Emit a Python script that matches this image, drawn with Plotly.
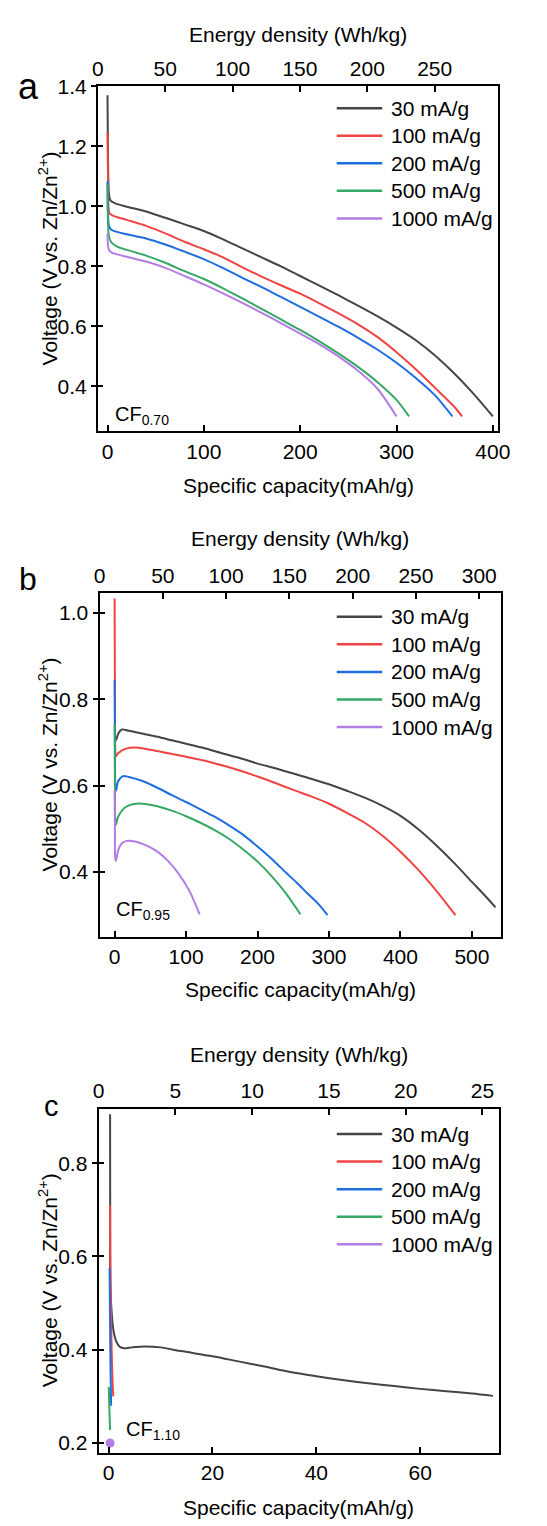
import plotly.graph_objects as go

W, H = 547, 1526
FONT = "Liberation Sans, Arial, sans-serif"
FS = 21

rate_labels = ["30 mA/g", "100 mA/g", "200 mA/g", "500 mA/g", "1000 mA/g"]
rate_colors = ["#454545", "#EF4444", "#1E6EE0", "#36A865", "#B27EE3"]

# ---- panel a : CF0.70 ----
a_cap_30 = [0, 0.3, 0.8, 1.5, 3, 8, 20, 40, 60, 80, 100, 120, 140, 160, 180, 200, 220, 240, 260, 280, 300, 320, 340, 360, 380, 400]
a_v_30 = [1.37, 1.25, 1.10, 1.04, 1.02, 1.01, 0.999, 0.983, 0.962, 0.94, 0.918, 0.89, 0.86, 0.83, 0.80, 0.768, 0.736, 0.703, 0.669, 0.634, 0.596, 0.554, 0.503, 0.443, 0.375, 0.30]
a_cap_100 = [0, 0.5, 1, 2, 5, 20, 40, 60, 80, 100, 120, 140, 160, 180, 200, 220, 240, 260, 280, 300, 320, 340, 360, 368]
a_v_100 = [1.245, 1.10, 1.00, 0.978, 0.97, 0.955, 0.935, 0.91, 0.882, 0.857, 0.83, 0.797, 0.766, 0.737, 0.709, 0.677, 0.643, 0.607, 0.565, 0.514, 0.457, 0.395, 0.332, 0.30]
a_cap_200 = [0, 0.5, 1.5, 4, 20, 40, 60, 80, 100, 120, 140, 160, 180, 200, 220, 240, 260, 280, 300, 320, 340, 358]
a_v_200 = [1.085, 0.98, 0.935, 0.922, 0.907, 0.893, 0.873, 0.849, 0.824, 0.794, 0.762, 0.731, 0.698, 0.665, 0.632, 0.598, 0.562, 0.523, 0.479, 0.428, 0.37, 0.30]
a_cap_500 = [0, 0.5, 1.5, 4, 10, 20, 40, 60, 80, 100, 120, 140, 160, 180, 200, 220, 240, 260, 280, 300, 313]
a_v_500 = [1.075, 0.95, 0.90, 0.88, 0.866, 0.855, 0.836, 0.812, 0.784, 0.758, 0.727, 0.693, 0.658, 0.623, 0.588, 0.55, 0.509, 0.465, 0.415, 0.355, 0.30]
a_cap_1000 = [0, 0.5, 1.5, 5, 10, 20, 40, 60, 80, 100, 120, 140, 160, 180, 200, 220, 240, 260, 280, 300]
a_v_1000 = [0.91, 0.87, 0.855, 0.845, 0.84, 0.832, 0.816, 0.795, 0.768, 0.74, 0.71, 0.678, 0.645, 0.611, 0.576, 0.54, 0.499, 0.452, 0.393, 0.30]

# ---- panel b : CF0.95 ----
b_cap_30 = [0, 2, 5, 10, 20, 40, 60, 80, 100, 125, 150, 175, 200, 225, 250, 275, 300, 325, 350, 375, 400, 425, 450, 475, 500, 520, 533]
b_v_30 = [0.712, 0.705, 0.72, 0.73, 0.727, 0.72, 0.713, 0.705, 0.697, 0.687, 0.675, 0.664, 0.651, 0.64, 0.628, 0.616, 0.603, 0.588, 0.572, 0.553, 0.53, 0.499, 0.462, 0.421, 0.377, 0.342, 0.318]
b_cap_100 = [0, 0.5, 1, 2, 5, 15, 30, 50, 75, 100, 125, 150, 175, 200, 225, 250, 275, 300, 325, 350, 375, 400, 425, 450, 477]
b_v_100 = [1.033, 0.80, 0.68, 0.668, 0.675, 0.685, 0.688, 0.683, 0.675, 0.667, 0.658, 0.647, 0.635, 0.621, 0.606, 0.59, 0.575, 0.558, 0.537, 0.514, 0.484, 0.447, 0.405, 0.357, 0.30]
b_cap_200 = [0, 0.5, 1, 2, 5, 12, 20, 40, 60, 80, 100, 120, 140, 160, 180, 200, 220, 240, 255, 270, 285, 298]
b_v_200 = [0.845, 0.70, 0.60, 0.588, 0.61, 0.622, 0.62, 0.61, 0.595, 0.578, 0.562, 0.545, 0.528, 0.508, 0.486, 0.459, 0.43, 0.398, 0.375, 0.35, 0.326, 0.30]
b_cap_500 = [0, 0.5, 1, 2, 5, 15, 30, 45, 60, 80, 100, 120, 140, 160, 180, 200, 220, 240, 260]
b_v_500 = [0.743, 0.60, 0.52, 0.51, 0.528, 0.55, 0.558, 0.557, 0.552, 0.542, 0.529, 0.514, 0.497, 0.477, 0.452, 0.424, 0.39, 0.35, 0.302]
b_cap_1000 = [0, 0.5, 1, 2, 5, 10, 17, 30, 45, 60, 75, 90, 105, 119]
b_v_1000 = [0.59, 0.50, 0.43, 0.426, 0.45, 0.466, 0.472, 0.47, 0.461, 0.447, 0.425, 0.395, 0.355, 0.302]

# ---- panel c : CF1.10 ----
c_cap_30 = [0.3, 0.32, 0.35, 0.6, 0.9, 1.2, 1.6, 2.2, 3, 4.5, 7, 10, 14, 20, 25, 30, 35, 40, 45, 50, 55, 60, 65, 70, 74]
c_v_30 = [0.905, 0.70, 0.54, 0.48, 0.445, 0.428, 0.415, 0.406, 0.403, 0.405, 0.407, 0.405, 0.397, 0.386, 0.375, 0.364, 0.352, 0.343, 0.335, 0.328, 0.322, 0.316, 0.311, 0.306, 0.301]
c_cap_100 = [0.3, 0.35, 0.45, 0.6, 0.75, 0.9]
c_v_100 = [0.71, 0.60, 0.50, 0.40, 0.34, 0.30]
c_cap_200 = [0.2, 0.3, 0.4, 0.5]
c_v_200 = [0.575, 0.45, 0.35, 0.28]
c_cap_500 = [0.05, 0.15, 0.3]
c_v_500 = [0.32, 0.28, 0.228]
c_cap_1000 = [0.3]
c_v_1000 = [0.2]

panels = [
    dict(letter="a", cf="0.70",
         caps=[a_cap_30, a_cap_100, a_cap_200, a_cap_500, a_cap_1000],
         volts=[a_v_30, a_v_100, a_v_200, a_v_500, a_v_1000],
         px=(95, 509), py=(75, 423), xr=[-10, 405.6], x2r=[0, 297.2], yr=[0.25, 1.4],
         dx=100, dx2=50, yt=[0.4, 0.6, 0.8, 1.0, 1.2, 1.4],
         top_title=23, bot_title=478, leg_y=97, letter_xy=(23, 75, 36), cf_xy=(111, 407)),
    dict(letter="b", cf="0.95",
         caps=[b_cap_30, b_cap_100, b_cap_200, b_cap_500, b_cap_1000],
         volts=[b_v_30, b_v_100, b_v_200, b_v_500, b_v_1000],
         px=(96.7, 511.7), py=(586, 932.7), xr=[-21.1, 540.5], x2r=[0, 317.1], yr=[0.25, 1.046],
         dx=100, dx2=50, yt=[0.4, 0.6, 0.8, 1.0],
         top_title=531, bot_title=986, leg_y=610, letter_xy=(23, 572, 32), cf_xy=(111.7, 906)),
    dict(letter="c", cf="1.10",
         caps=[c_cap_30, c_cap_100, c_cap_200, c_cap_500, c_cap_1000],
         volts=[c_v_30, c_v_100, c_v_200, c_v_500, c_v_1000],
         px=(95.7, 510), py=(1106, 1453.3), xr=[-1.92, 75.2], x2r=[0, 26.09], yr=[0.1787, 0.917],
         dx=20, dx2=5, yt=[0.2, 0.4, 0.6, 0.8],
         top_title=1051, bot_title=1508, leg_y=1131.7, letter_xy=(46.7, 1103, 29), cf_xy=(121.7, 1431)),
]


def fx(px):
    return px / W


def fy(py):
    return 1 - py / H


def text_note(text, x, y, size=FS, xanchor="center", **kw):
    return dict(text=text, xref="paper", yref="paper", x=fx(x), y=fy(y),
                xanchor=xanchor, yanchor="middle", showarrow=False,
                font=dict(family=FONT, size=size, color="black"), **kw)


fig = go.Figure()
layout = dict(width=W, height=H, margin=dict(l=0, r=0, t=0, b=0),
              paper_bgcolor="white", plot_bgcolor="white", showlegend=False,
              font=dict(family=FONT, size=FS, color="black"))
annotations = []
shapes = []

tickfont = dict(family=FONT, size=FS, color="black")
common = dict(showgrid=False, zeroline=False, tickcolor="black", tickwidth=2,
              linecolor="black", linewidth=2, tickfont=tickfont)

for i, p in enumerate(panels):
    n = 2 * i + 1
    xb, xt = f"x{n}" if n > 1 else "x", f"x{n + 1}"
    yl, yo = f"y{n}" if n > 1 else "y", f"y{n + 1}"
    xb_key = "xaxis" if n == 1 else f"xaxis{n}"
    yl_key = "yaxis" if n == 1 else f"yaxis{n}"
    xdom = [fx(p["px"][0]), fx(p["px"][1])]
    ydom = [fy(p["py"][1]), fy(p["py"][0])]

    layout[xb_key] = dict(domain=xdom, anchor=yl, range=p["xr"], tickmode="linear", tick0=0,
                          dtick=p["dx"], ticks="inside", ticklen=6, showline=True, mirror=True,
                          **common)
    layout[f"xaxis{n + 1}"] = dict(overlaying=xb, side="top", anchor=yl, range=p["x2r"],
                                   tickmode="linear", tick0=0, dtick=p["dx2"], ticks="inside",
                                   ticklen=6, showline=True, **common)
    layout[yl_key] = dict(domain=ydom, anchor=xb, range=p["yr"], tickmode="array",
                          tickvals=p["yt"], tickformat=".1f", ticks="outside", ticklen=5,
                          showline=True, mirror=True, **common)
    layout[f"yaxis{n + 1}"] = dict(overlaying=yl, side="left", anchor=xb, range=p["yr"],
                                   tickmode="array", tickvals=p["yt"], ticks="inside", ticklen=5,
                                   showticklabels=False, showline=False, **common)

    # empty traces keep the top energy axis and inner tick axis active
    fig.add_trace(go.Scatter(x=[], y=[], xaxis=xt, yaxis=yl, hoverinfo="skip"))
    fig.add_trace(go.Scatter(x=[], y=[], xaxis=xb, yaxis=yo, hoverinfo="skip"))

    for k in range(5):
        xs, ys = p["caps"][k], p["volts"][k]
        if len(xs) == 1:
            fig.add_trace(go.Scatter(x=xs, y=ys, mode="markers", xaxis=xb, yaxis=yl,
                                     marker=dict(size=9, color=rate_colors[k]),
                                     name=rate_labels[k], cliponaxis=False))
        else:
            fig.add_trace(go.Scatter(x=xs, y=ys, mode="lines", xaxis=xb, yaxis=yl,
                                     line=dict(color=rate_colors[k], width=2,
                                               shape="spline", smoothing=0.8),
                                     name=rate_labels[k]))

    # legend block
    for k in range(5):
        yy = p["leg_y"] + k * 27.8
        shapes.append(dict(type="line", xref="paper", yref="paper",
                           x0=fx(342), x1=fx(389), y0=fy(yy), y1=fy(yy),
                           line=dict(color=rate_colors[k], width=2.5)))
        annotations.append(text_note(rate_labels[k], 396, yy, xanchor="left"))

    xc = (p["px"][0] + p["px"][1]) / 2
    yc = (p["py"][0] + p["py"][1]) / 2
    annotations.append(text_note("Energy density (Wh/kg)", xc, p["top_title"]))
    annotations.append(text_note("Specific capacity(mAh/g)", xc, p["bot_title"]))
    annotations.append(text_note("Voltage (V vs. Zn/Zn<sup>2+</sup>)", 43, yc, textangle=-90))
    lx, ly, ls = p["letter_xy"]
    annotations.append(text_note(p["letter"], lx, ly, size=ls))
    cx, cy = p["cf_xy"]
    annotations.append(text_note(f"CF<sub>{p['cf']}</sub>", cx, cy, size=20, xanchor="left"))

layout["annotations"] = annotations
layout["shapes"] = shapes
fig.update_layout(**layout)
fig.write_html("out.html")
